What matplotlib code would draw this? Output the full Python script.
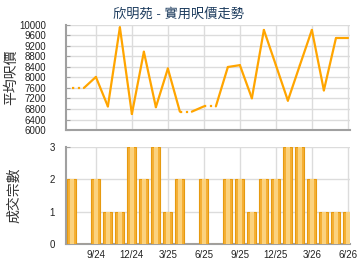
import matplotlib.pyplot as plt
import numpy as np

plt.rcParams['font.family'] = ['Liberation Sans', 'Noto Sans CJK TC', 'DejaVu Sans']

# monthly data, 7/24 .. 6/26
months = ['7/24', '8/24', '9/24', '10/24', '11/24', '12/24',
          '1/25', '2/25', '3/25', '4/25', '5/25', '6/25',
          '7/25', '8/25', '9/25', '10/25', '11/25', '12/25',
          '1/26', '2/26', '3/26', '4/26', '5/26', '6/26']
prices = [7600, 7600, 8020, 6900, 9910, 6610, 8980, 6870, 8340, 6700, 6700, 6900,
          6900, 8400, 8470, 7210, 9810, 8470, 7120, 8470, 9810, 7510, 9490, 9490]
counts = [2, 0, 2, 1, 1, 3, 2, 3, 1, 2, 0, 2, 0, 2, 2, 1, 2, 2, 3, 3, 2, 1, 1, 1]
tick_months = ['9/24', '12/24', '3/25', '6/25', '9/25', '12/25', '3/26', '6/26']

title = '欣明苑 - 實用呎價走勢'
price_label = '平均呎價'
count_label = '成交宗數'

x = np.arange(len(months))
tick_pos = [months.index(m) for m in tick_months]
line_col = '#ffa500'
grid_col = '#dcdcdc'
spine_col = '#a0a0a0'

fig = plt.figure(figsize=(3.6, 2.7), dpi=100)
ax1 = fig.add_axes([0.183, 0.5185, 0.789, 0.389])
ax2 = fig.add_axes([0.183, 0.0963, 0.789, 0.359])

# price line: segments into a month with no deals are dotted
for i in range(len(x) - 1):
    ls = ':' if counts[i + 1] == 0 else '-'
    ax1.plot(x[i:i + 2], prices[i:i + 2], color=line_col, lw=1.6, ls=ls,
             solid_capstyle='round', zorder=3)

ax1.set_ylim(6000, 10000)
ax1.set_yticks(np.arange(6000, 10001, 400))
ax1.set_xticks(tick_pos)
ax1.set_xticklabels([])

# deal count bars
ax2.bar(x, counts, width=0.75, color='#f5b035', edgecolor='#e69a10', lw=0.8, zorder=3)
ax2.bar(x, counts, width=0.3, color='#fbd27e', lw=0, zorder=4)
ax2.set_ylim(0, 3)
ax2.set_yticks([0, 1, 2, 3])
ax2.set_xticks(tick_pos)
ax2.set_xticklabels(tick_months, fontsize=7, color='#222222')

for ax in (ax1, ax2):
    ax.set_xlim(-0.5, 23.17)
    ax.grid(True, color=grid_col, lw=1, zorder=0)
    ax.set_axisbelow(True)
    for s in ('top', 'right'):
        ax.spines[s].set_visible(False)
    for s in ('left', 'bottom'):
        ax.spines[s].set_color(spine_col)
        ax.spines[s].set_linewidth(1.5)
    ax.tick_params(axis='y', length=3, direction='in', color=spine_col,
                   labelsize=7, labelcolor='#222222')
    ax.tick_params(axis='x', length=0, pad=4)

ax1.tick_params(axis='y', pad=14)
ax2.tick_params(axis='y', pad=8)

ax1.set_ylabel(price_label, fontsize=10, color='#333333')
ax2.set_ylabel(count_label, fontsize=10, color='#333333')
ax1.yaxis.set_label_coords(-0.168, 0.5)
ax2.yaxis.set_label_coords(-0.158, 0.5)

fig.text(0.495, 0.948, title, ha='center', va='center', fontsize=9.5, color='#1d3c5e')

fig.savefig('out.png', dpi=100)
